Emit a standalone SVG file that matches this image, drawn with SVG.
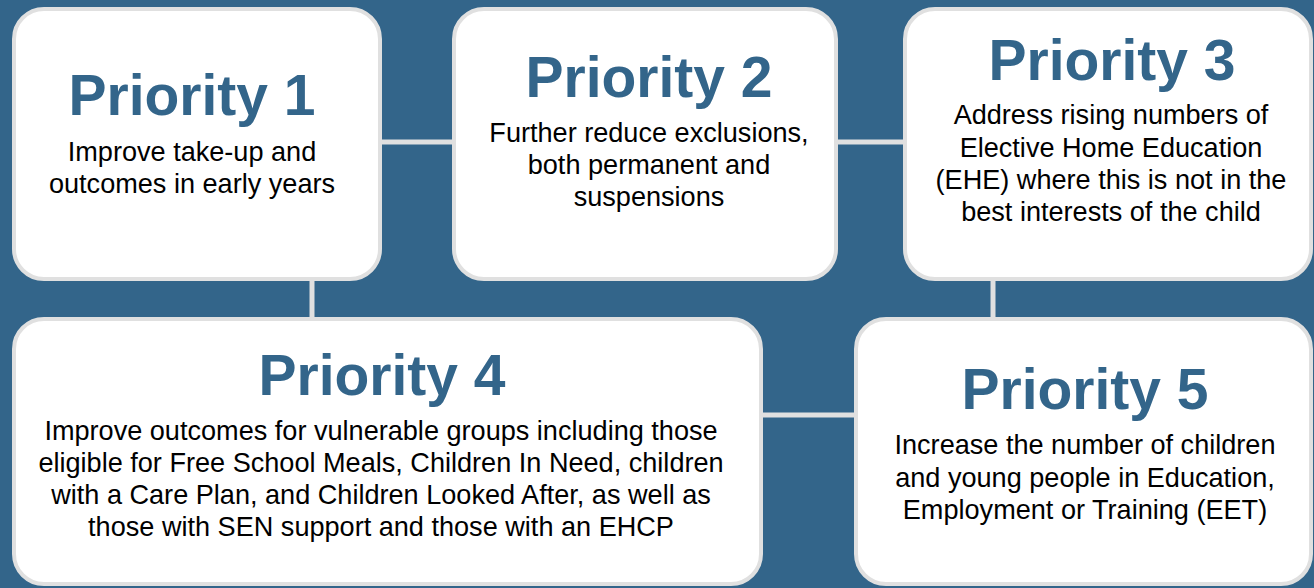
<svg xmlns="http://www.w3.org/2000/svg" width="1314" height="588" viewBox="0 0 1314 588">
<style>
.box{fill:#ffffff;stroke:#e0e0e0;stroke-width:4}
.conn{stroke:#e0e0e0;stroke-width:5;fill:none}
.title{font-family:"Liberation Sans",Arial,sans-serif;font-weight:bold;font-size:57px;fill:#33658a;text-anchor:middle}
.body{font-family:"Liberation Sans",Arial,sans-serif;font-size:27.1px;fill:#000000;text-anchor:middle}
</style>
<rect x="0" y="0" width="1314" height="588" fill="#33658a"/>
<g id="connectors">
<line class="conn" x1="380" y1="142" x2="454" y2="142"/>
<line class="conn" x1="836" y1="142" x2="905" y2="142"/>
<line class="conn" x1="312" y1="279" x2="312" y2="319"/>
<line class="conn" x1="993" y1="279" x2="993" y2="319"/>
<line class="conn" x1="761" y1="415" x2="856" y2="415"/>
</g>
<g id="priority1">
<rect class="box" x="14" y="9" width="366" height="270" rx="30"/>
<text class="title" x="192" y="115">Priority 1</text>
<text class="body" x="192" y="161">Improve take-up and</text>
<text class="body" x="192" y="193">outcomes in early years</text>
</g>
<g id="priority2">
<rect class="box" x="454" y="9" width="382" height="270" rx="30"/>
<text class="title" x="649" y="97">Priority 2</text>
<text class="body" x="649" y="142">Further reduce exclusions,</text>
<text class="body" x="649" y="174">both permanent and</text>
<text class="body" x="649" y="206">suspensions</text>
</g>
<g id="priority3">
<rect class="box" x="905" y="9" width="406" height="270" rx="30"/>
<text class="title" x="1112" y="80">Priority 3</text>
<text class="body" x="1111" y="124">Address rising numbers of</text>
<text class="body" x="1111" y="157">Elective Home Education</text>
<text class="body" x="1111" y="189">(EHE) where this is not in the</text>
<text class="body" x="1111" y="221">best interests of the child</text>
</g>
<g id="priority4">
<rect class="box" x="14" y="319" width="747" height="265" rx="30"/>
<text class="title" x="382" y="395">Priority 4</text>
<text class="body" x="381" y="440">Improve outcomes for vulnerable groups including those</text>
<text class="body" x="381" y="472">eligible for Free School Meals, Children In Need, children</text>
<text class="body" x="381" y="504">with a Care Plan, and Children Looked After, as well as</text>
<text class="body" x="381" y="536">those with SEN support and those with an EHCP</text>
</g>
<g id="priority5">
<rect class="box" x="856" y="319" width="455" height="265" rx="30"/>
<text class="title" x="1085" y="409">Priority 5</text>
<text class="body" x="1085" y="454">Increase the number of children</text>
<text class="body" x="1085" y="487">and young people in Education,</text>
<text class="body" x="1085" y="519">Employment or Training (EET)</text>
</g>
</svg>
